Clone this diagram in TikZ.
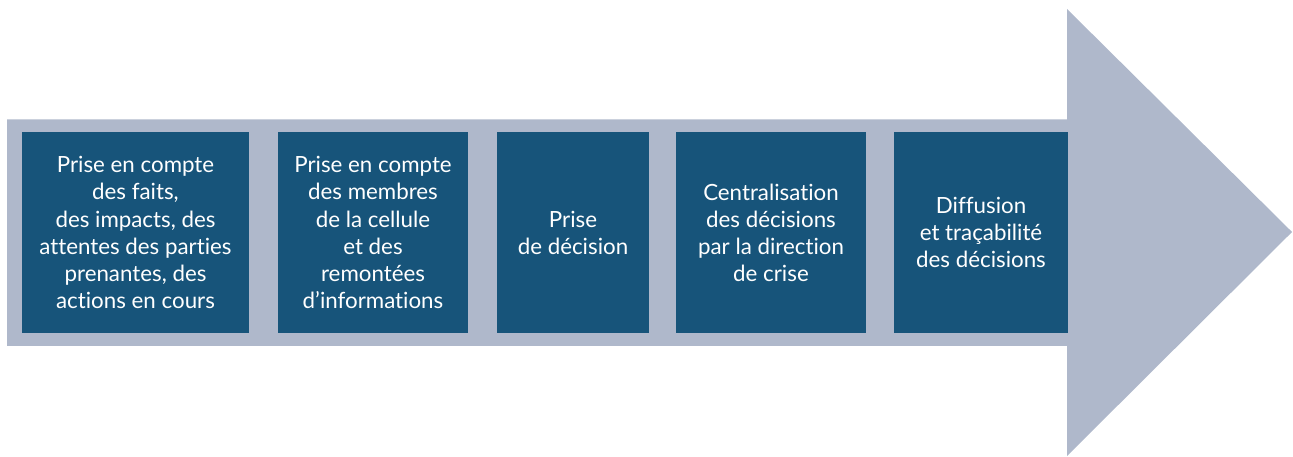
\documentclass[tikz,border=0pt]{standalone}
\usepackage{fontspec}
\setmainfont[Ligatures=NoCommon]{Lato}
\definecolor{fleche}{HTML}{AFB8CB}
\definecolor{bleu}{HTML}{17547A}
\tikzset{
	etape/.style={fill=bleu,text=white,inner sep=0,outer sep=0,minimum height=4.01cm,align=center,font=\fontsize{12.7}{15.4}\selectfont},
}

\begin{document}
\begin{tikzpicture}[x=0.02cm,y=0.02cm]
	\useasboundingbox (0,0) rectangle (1293,456);
	\fill[fleche] (7,110) -- (7,336.5) -- (1067,336.5) -- (1067,447) -- (1292,224) -- (1067,0) -- (1067,110) -- cycle;
	\node[etape,minimum width=4.54cm] (1) at (135.5,223.5) {Prise en compte\\des faits,\\des impacts, des\\attentes des parties\\prenantes, des\\actions en cours};
	\node[etape,minimum width=3.8cm] (2) at (373,223.5) {Prise en compte\\des membres\\de la cellule\\et des\\remontées\\d’informations};
	\node[etape,minimum width=3.04cm] (3) at (573,223.5) {Prise\\de décision};
	\node[etape,minimum width=3.8cm] (4) at (771,223.5) {Centralisation\\des décisions\\par la direction\\de crise};
	\node[etape,minimum width=3.48cm] (5) at (981,223.5) {Diffusion\\et traçabilité\\des décisions};
\end{tikzpicture}
\end{document}
